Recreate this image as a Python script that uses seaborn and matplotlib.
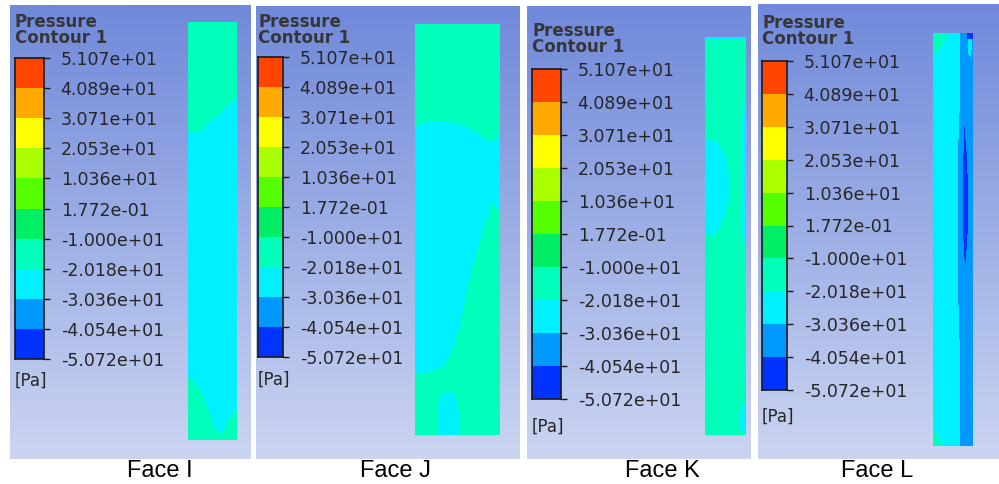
import matplotlib
matplotlib.use("Agg")  # headless
import matplotlib.pyplot as plt
import numpy as np
import seaborn as sns
from matplotlib.colors import ListedColormap, LinearSegmentedColormap
from matplotlib.path import Path

# ---- data ------------------------------------------------------------------
# contour levels, top of the legend first
LEVEL_LABELS = ["5.107e+01", "4.089e+01", "3.071e+01", "2.053e+01", "1.036e+01",
                "1.772e-01", "-1.000e+01", "-2.018e+01", "-3.036e+01",
                "-4.054e+01", "-5.072e+01"]
# band colours, lowest band (index 0) first
BAND_COLORS = ["#0033FF", "#0099FF", "#00F0FF", "#00FFBB", "#00EE66",
               "#55FF00", "#AAFF00", "#FFFF00", "#FFAA00", "#FF4500"]
FACE_NAMES = ["Face I", "Face J", "Face K", "Face L"]

# each face: base band + patches (band, outline in face units, x right / y down)
FACE_I_BASE = 2
FACE_I_PATCHES = [
    (3, [(-0.01, -0.01), (1.01, -0.01), (1.01, 0.18), (0.75, 0.21), (0.5, 0.235),
         (0.2, 0.266), (0.1, 0.262), (-0.01, 0.258)]),
    (3, [(-0.01, 0.852), (0.1, 0.856), (0.29, 0.888), (0.43, 0.928), (0.53, 0.969),
         (0.69, 0.988), (0.78, 0.96), (0.96, 0.928), (1.01, 0.925), (1.01, 1.01),
         (-0.01, 1.01)]),
]
FACE_J_BASE = 3
FACE_J_PATCHES = [
    (2, [(-0.01, 0.253), (0.1, 0.24), (0.33, 0.236), (0.61, 0.25), (0.8, 0.275),
         (0.9, 0.29), (1.01, 0.265), (1.01, 0.46), (0.9, 0.435), (0.76, 0.53),
         (0.63, 0.63), (0.53, 0.737), (0.45, 0.79), (0.33, 0.834), (0.18, 0.847),
         (-0.01, 0.85)]),
    (2, [(0.26, 1.01), (0.27, 0.93), (0.31, 0.9), (0.39, 0.895), (0.47, 0.9),
         (0.51, 0.93), (0.52, 1.01)]),
]
FACE_K_BASE = 3
FACE_K_PATCHES = [
    (2, [(-0.01, 0.26), (0.2, 0.255), (0.35, 0.27), (0.5, 0.3), (0.6, 0.35),
         (0.6, 0.4), (0.5, 0.44), (0.35, 0.48), (0.2, 0.5), (-0.01, 0.49)]),
    (2, [(1.01, 0.13), (0.9, 0.2), (0.87, 0.33), (0.88, 0.45), (0.93, 0.52),
         (1.01, 0.52)]),
    (2, [(1.01, 0.91), (0.9, 0.93), (0.84, 0.96), (0.87, 0.99), (1.01, 0.99)]),
    (2, [(-0.01, -0.01), (1.01, -0.01), (1.01, 0.008), (-0.01, 0.008)]),
]
FACE_L_BASE = 2
FACE_L_PATCHES = [
    (1, [(0.68, -0.01), (1.01, -0.01), (1.01, 1.01), (0.68, 1.01), (0.68, 0.8),
         (0.62, 0.6), (0.62, 0.3), (0.68, 0.15)]),
    (0, [(0.78, 0.22), (0.85, 0.3), (0.88, 0.4), (0.86, 0.5), (0.8, 0.57),
         (0.76, 0.5), (0.75, 0.4), (0.76, 0.3)]),
    (3, [(-0.01, -0.01), (0.45, -0.01), (0.3, 0.02), (0.1, 0.05), (-0.01, 0.06)]),
    (3, [(-0.01, 0.96), (0.15, 0.98), (0.3, 1.01), (-0.01, 1.01)]),
    (0, [(0.85, -0.01), (1.01, -0.01), (1.01, 0.015), (0.85, 0.015)]),
    (2, [(0.88, 0.015), (0.98, 0.015), (0.95, 0.06), (0.88, 0.05)]),
]
FACES = [(FACE_I_BASE, FACE_I_PATCHES), (FACE_J_BASE, FACE_J_PATCHES),
         (FACE_K_BASE, FACE_K_PATCHES), (FACE_L_BASE, FACE_L_PATCHES)]

# ---- layout (pixel boxes x0, y0, x1, y1 in a 999x484 canvas) ---------------
W, H = 999, 484
PANEL_BOX = [(10, 5, 250, 459), (256, 6, 520, 459), (527, 6, 751, 459), (758, 4, 999, 459)]
BAR_BOX = [(15, 58, 44, 359), (258, 57, 283, 357), (532, 69, 561, 399), (762, 61, 787, 390)]
FACE_BOX = [(188, 22, 237, 440), (415, 24, 500, 435), (705, 37, 746, 435), (933, 33, 973, 446)]
TITLE_Y = [43, 43, 52, 44]  # baseline of "Contour 1"
UNIT_Y = [381, 380, 427, 417]
LABEL_X = [160, 395, 662, 877]

TEXT = "#262626"
cmap = ListedColormap(BAND_COLORS)
bg_cmap = LinearSegmentedColormap.from_list("bg", ["#7089DA", "#CBD5F1"])


def rect(box):
    x0, y0, x1, y1 = box
    return [x0 / W, 1 - y1 / H, (x1 - x0) / W, (y1 - y0) / H]


def face_grid(base, patches, nrows, ncols):
    yy, xx = np.mgrid[0:nrows, 0:ncols]
    pts = np.column_stack([(xx.ravel() + 0.5) / ncols, (yy.ravel() + 0.5) / nrows])
    grid = np.full(nrows * ncols, base)
    for band, poly in patches:
        grid[Path(poly).contains_points(pts)] = band
    return grid.reshape(nrows, ncols)


def main():
    fig = plt.figure(figsize=(W / 100, H / 100), dpi=100, facecolor="white")
    bands = np.arange(len(BAND_COLORS))[::-1].reshape(-1, 1)

    for i in range(4):
        # panel background gradient
        bg = fig.add_axes(rect(PANEL_BOX[i]))
        bg.imshow(np.linspace(0, 1, 200).reshape(-1, 1), cmap=bg_cmap, aspect="auto",
                  extent=(0, 1, 0, 1))
        bg.set_axis_off()

        # title + unit
        x0 = BAR_BOX[i][0] / W
        fig.text(x0, 1 - TITLE_Y[i] / H, "Pressure\nContour 1", fontsize=12,
                 weight="bold", color="#363636", va="baseline", linespacing=0.85)
        fig.text(x0, 1 - UNIT_Y[i] / H, "[Pa]", fontsize=12, color=TEXT, va="center")

        # legend bar
        cax = fig.add_axes(rect(BAR_BOX[i]))
        sns.heatmap(bands, ax=cax, cmap=cmap, vmin=-0.5, vmax=len(BAND_COLORS) - 0.5,
                    cbar=False, xticklabels=False, yticklabels=False)
        for sp in cax.spines.values():
            sp.set_visible(True)
            sp.set_color("#1a1a1a")
            sp.set_linewidth(1.2)
        cax.yaxis.tick_right()
        cax.set_yticks(np.arange(len(LEVEL_LABELS)))
        cax.set_yticklabels(LEVEL_LABELS, rotation=0, fontsize=12.5, color=TEXT)
        cax.tick_params(axis="y", length=4, width=1, color="#1a1a1a", pad=8)
        cax.set_xticks([])

        # face contour
        fx0, fy0, fx1, fy1 = FACE_BOX[i]
        base, patches = FACES[i]
        grid = face_grid(base, patches, fy1 - fy0, fx1 - fx0)
        fax = fig.add_axes(rect(FACE_BOX[i]))
        sns.heatmap(grid, ax=fax, cmap=cmap, vmin=-0.5, vmax=len(BAND_COLORS) - 0.5,
                    cbar=False, xticklabels=False, yticklabels=False)
        fax.set_axis_off()

        fig.text(LABEL_X[i] / W, 1 - 471 / H, FACE_NAMES[i], fontsize=17,
                 family="Liberation Sans", ha="center", va="center", color="black")

    fig.savefig("out.png", dpi=100, facecolor="white")
    plt.close(fig)


if __name__ == "__main__":
    main()
